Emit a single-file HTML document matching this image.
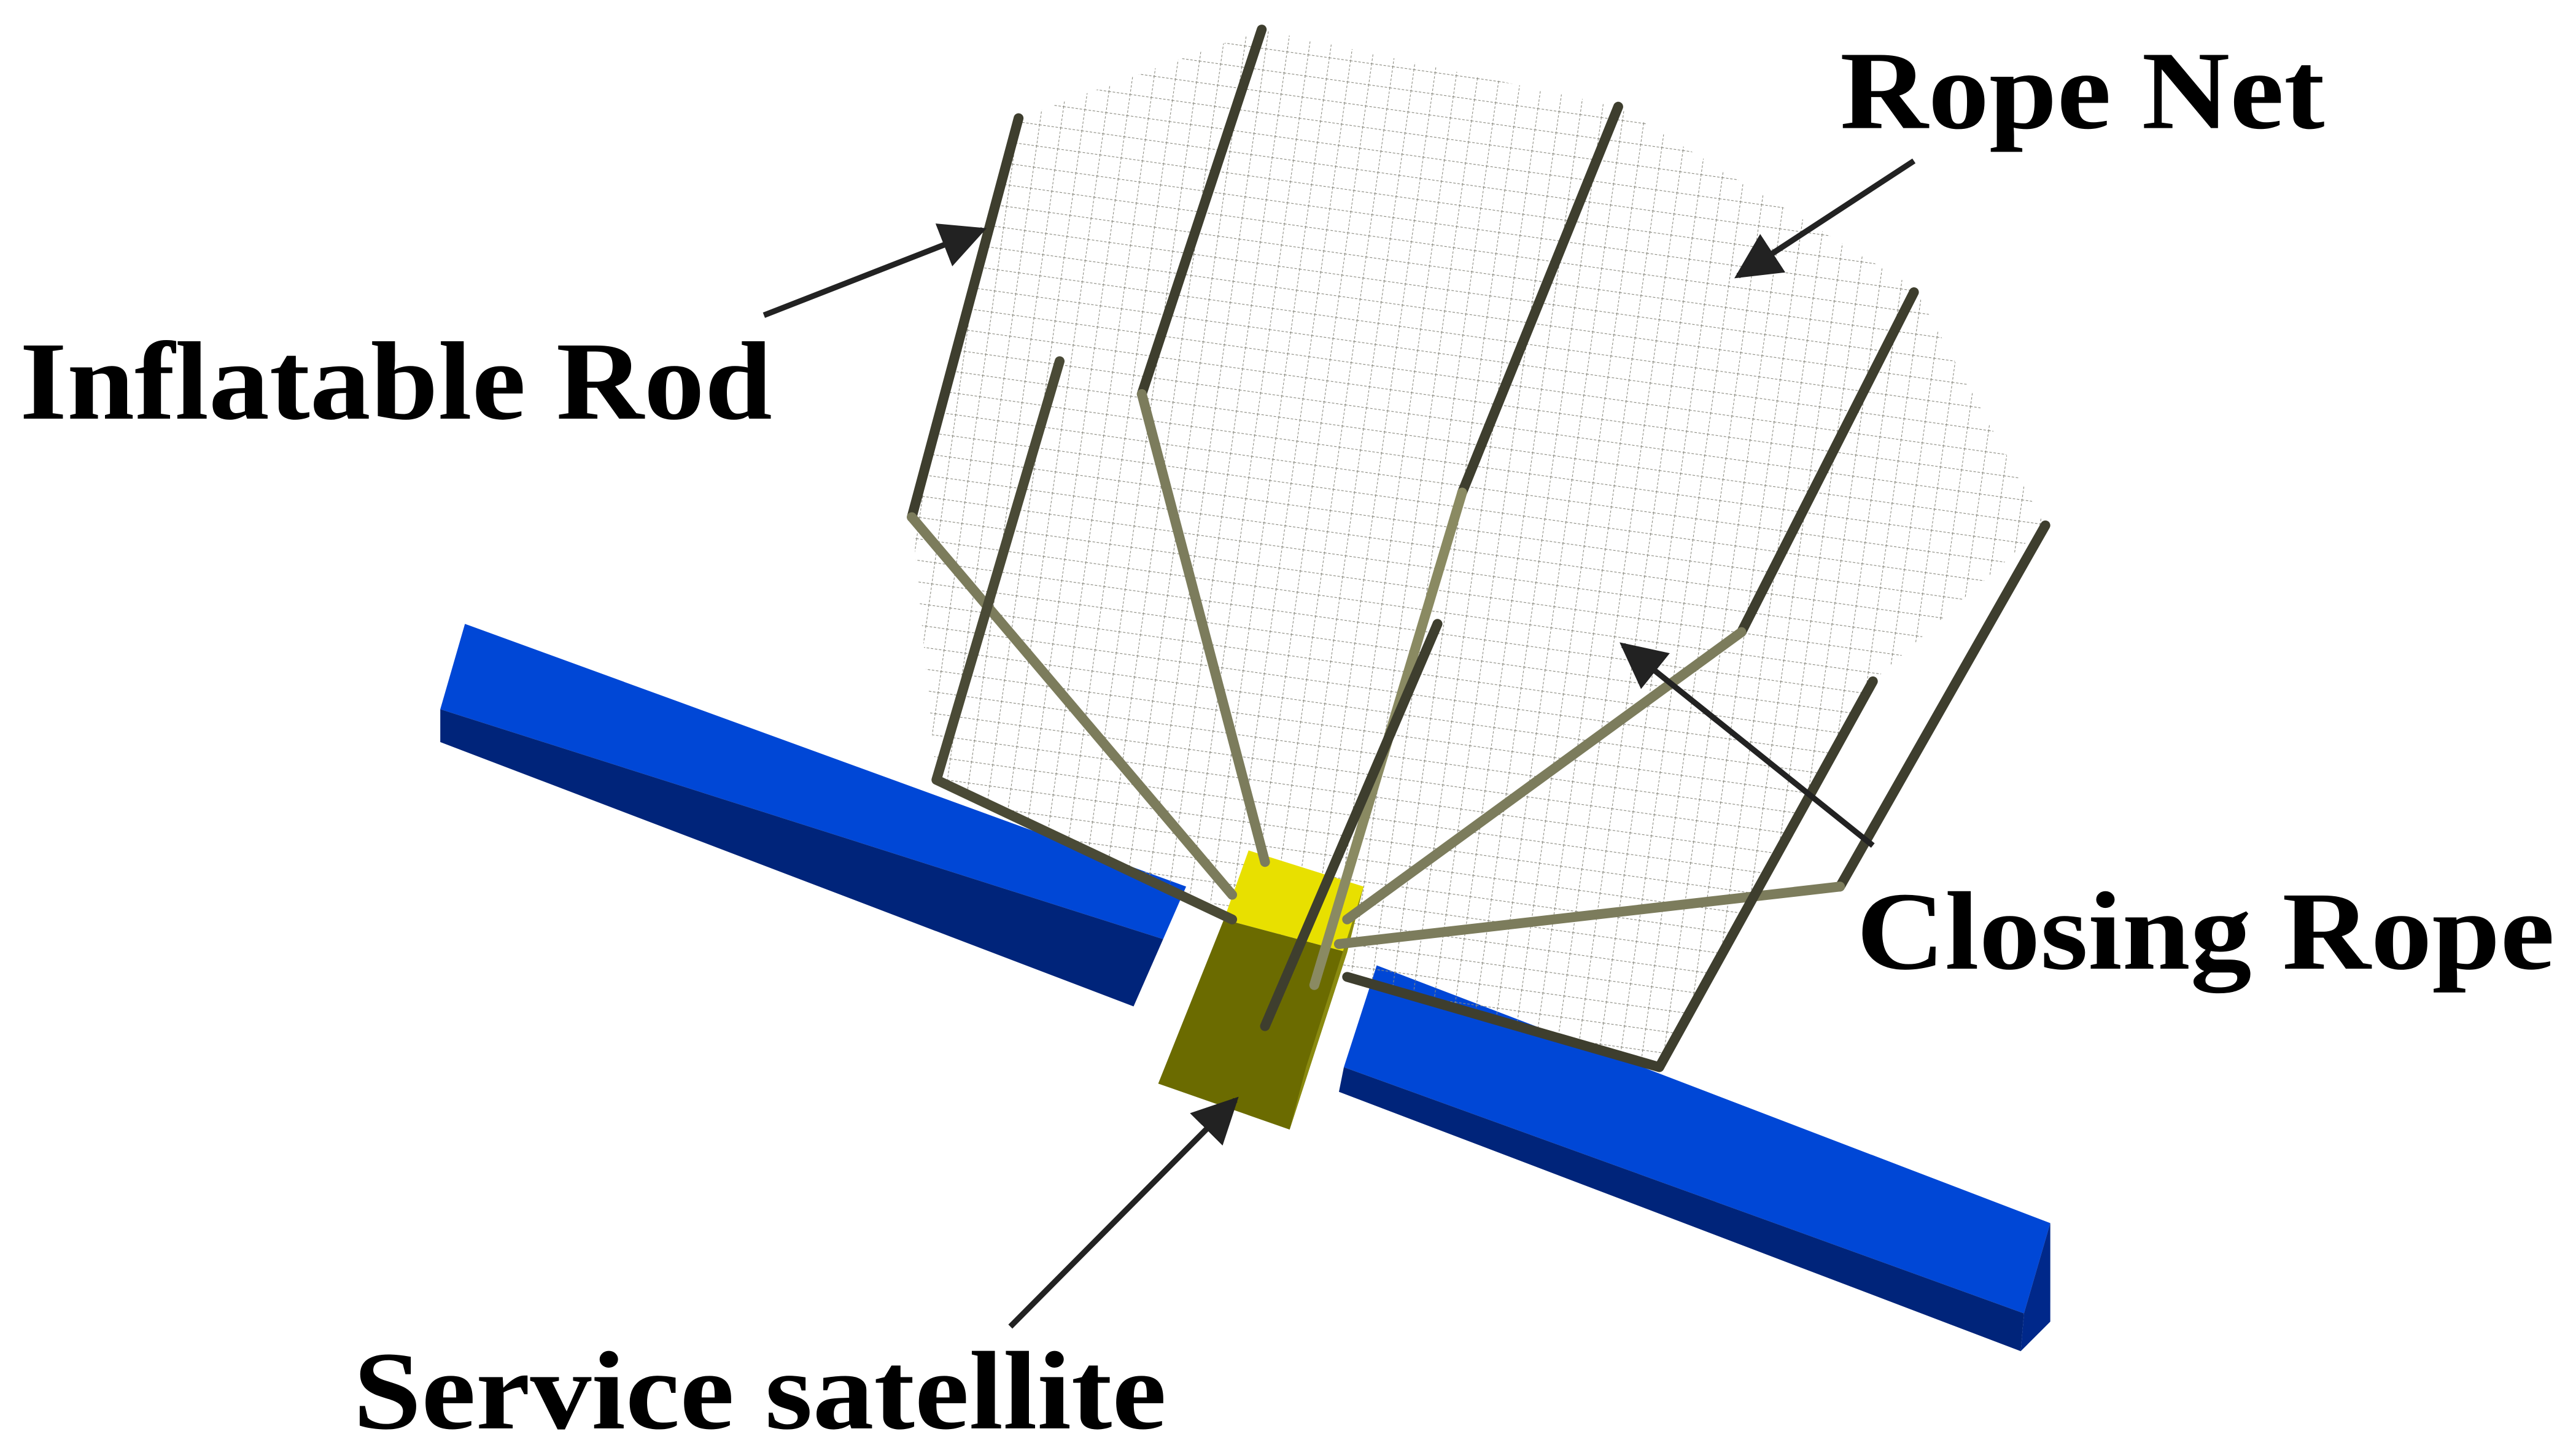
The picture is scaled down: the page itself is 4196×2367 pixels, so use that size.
<!DOCTYPE html>
<html><head><meta charset="utf-8"><style>
html,body{margin:0;padding:0;background:#fff;}
svg{display:block;}
text{font-family:"Liberation Serif",serif;font-weight:bold;fill:#000;}
</style></head><body>
<svg width="4196" height="2367" viewBox="0 0 1568 885" preserveAspectRatio="none" xmlns="http://www.w3.org/2000/svg">
<defs>
<pattern id="grid" width="13" height="13" patternUnits="userSpaceOnUse" patternTransform="rotate(8)">
<path d="M0 0H13M0 0V13" stroke="#8a8a80" stroke-width="0.8" fill="none" stroke-dasharray="1.5 1"/>
</pattern>
<marker id="ah" viewBox="0 0 10 10" refX="9" refY="5" markerWidth="8" markerHeight="8" orient="auto">
<path d="M0 0L10 5L0 10z" fill="#222"/>
</marker>
</defs>
<rect width="1568" height="885" fill="#fff"/>
<polygon points="283,380 722,540 708,572 268,432" fill="#0047d6"/>
<polygon points="268,432 708,572 690,613 268,452" fill="#00247a"/>
<polygon points="838,588 1248,745 1232,800 818,650" fill="#0047d6"/>
<polygon points="818,650 1232,800 1230,823 815,665" fill="#00247a"/>
<polygon points="1232,800 1248,745 1248,805 1230,823" fill="#00288a"/>
<polygon points="620,72 768,18 985,65 1165,175 1245,320 1140,415 1010,650 830,595 760,560 570,475 555,315" fill="url(#grid)"/>
<polygon points="760,518 830,540 820,580 745,560" fill="#e8e000"/>
<polygon points="745,560 820,580 785,688 705,660" fill="#6b6b00"/>
<polygon points="820,580 830,540 795,650 785,688" fill="#8a8a10"/>
<g fill="none" stroke-linecap="round" stroke-linejoin="round" stroke-width="6">
<polyline points="620,72 555,315" stroke="#3e3e2e"/>
<polyline points="555,315 750,545" stroke="#7c7c5c"/>
<polyline points="645,220 570,475 750,560" stroke="#4a4a36"/>
<polyline points="768,18 695,240" stroke="#3e3e2e"/>
<polyline points="695,240 770,525" stroke="#7c7c5c"/>
<polyline points="985,65 890,300" stroke="#3e3e2e"/>
<polyline points="890,300 800,600" stroke="#8a8a62"/>
<polyline points="1165,178 1060,385" stroke="#3e3e2e"/>
<polyline points="1060,385 820,560" stroke="#7c7c5c"/>
<polyline points="1245,320 1120,540" stroke="#3e3e2e"/>
<polyline points="1120,540 815,575" stroke="#7c7c5c"/>
<polyline points="1140,415 1010,650 820,595" stroke="#3e3e2e"/>
<polyline points="875,380 770,625" stroke="#3e3e2e"/>
</g>
<g stroke="#222" stroke-width="3.5" marker-end="url(#ah)">
<line x1="465" y1="192" x2="598" y2="140"/>
<line x1="1165" y1="98" x2="1058" y2="168"/>
<line x1="1140" y1="515" x2="988" y2="393"/>
<line x1="615" y1="808" x2="752" y2="670"/>
</g>
<text x="1120" y="78" font-size="68" textLength="295" lengthAdjust="spacingAndGlyphs">Rope Net</text>
<text x="12" y="255" font-size="68" textLength="458" lengthAdjust="spacingAndGlyphs">Inflatable Rod</text>
<text x="1130" y="590" font-size="68" textLength="425" lengthAdjust="spacingAndGlyphs">Closing Rope</text>
<text x="215" y="870" font-size="68" textLength="495" lengthAdjust="spacingAndGlyphs">Service satellite</text>
</svg>
</body></html>
